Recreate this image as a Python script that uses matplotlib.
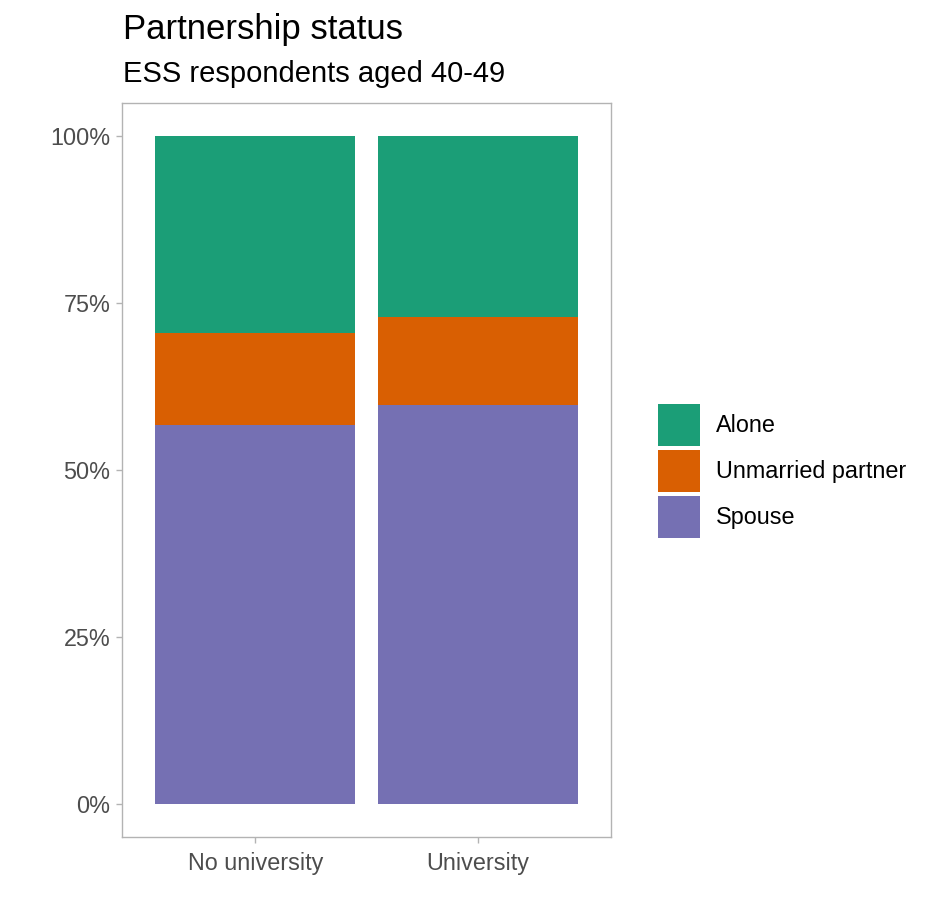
import matplotlib.pyplot as plt
from matplotlib.patches import Patch
from matplotlib.ticker import PercentFormatter

plt.rcParams['font.family'] = ['Liberation Sans', 'DejaVu Sans']

# data (shares of respondents)
groups = ["No university", "University"]
spouse = [0.567, 0.597]
unmarried = [0.138, 0.132]
alone = [0.295, 0.271]

series_names = ["Spouse", "Unmarried partner", "Alone"]
colors = {"Alone": "#1B9E77", "Unmarried partner": "#D95F02", "Spouse": "#7570B3"}

fig = plt.figure(figsize=(9.36, 9.22), dpi=100)
ax = fig.add_axes([122 / 936, 1 - 837 / 922, (611 - 122) / 936, (837 - 103) / 922])

x = [1, 2]
bottom = [0.0, 0.0]
for name, vals in zip(series_names, [spouse, unmarried, alone]):
    ax.bar(x, vals, width=0.9, bottom=bottom, color=colors[name], linewidth=0)
    bottom = [b + v for b, v in zip(bottom, vals)]

ax.set_xlim(0.4, 2.6)
ax.set_ylim(-0.05, 1.05)
ax.set_xticks(x)
ax.set_xticklabels(groups)
ax.set_yticks([0, 0.25, 0.5, 0.75, 1.0])
ax.yaxis.set_major_formatter(PercentFormatter(1.0, decimals=0))

for s in ax.spines.values():
    s.set_color("#B3B3B3")
    s.set_linewidth(1.0)
ax.tick_params(colors="#B3B3B3", labelcolor="#4D4D4D", labelsize=16.8,
               length=4.5, width=1.0, pad=4)
ax.tick_params(axis="x", pad=6)

fig.text(123 / 936, 1 - 39 / 922, "Partnership status", fontsize=25,
         ha="left", va="baseline")
fig.text(123 / 936, 1 - 82 / 922, "ESS respondents aged 40-49", fontsize=21,
         ha="left", va="baseline")

legend_names = ["Alone", "Unmarried partner", "Spouse"]
handles = [Patch(facecolor=colors[n], edgecolor="none") for n in legend_names]
fig.legend(handles, legend_names, loc="center left",
           bbox_to_anchor=(658 / 936, 1 - 471 / 922), frameon=False, fontsize=16.8,
           handlelength=1.8, handleheight=2.39, labelspacing=0.17,
           handletextpad=0.69, borderpad=0, borderaxespad=0)

fig.savefig("out.png", dpi=100)
